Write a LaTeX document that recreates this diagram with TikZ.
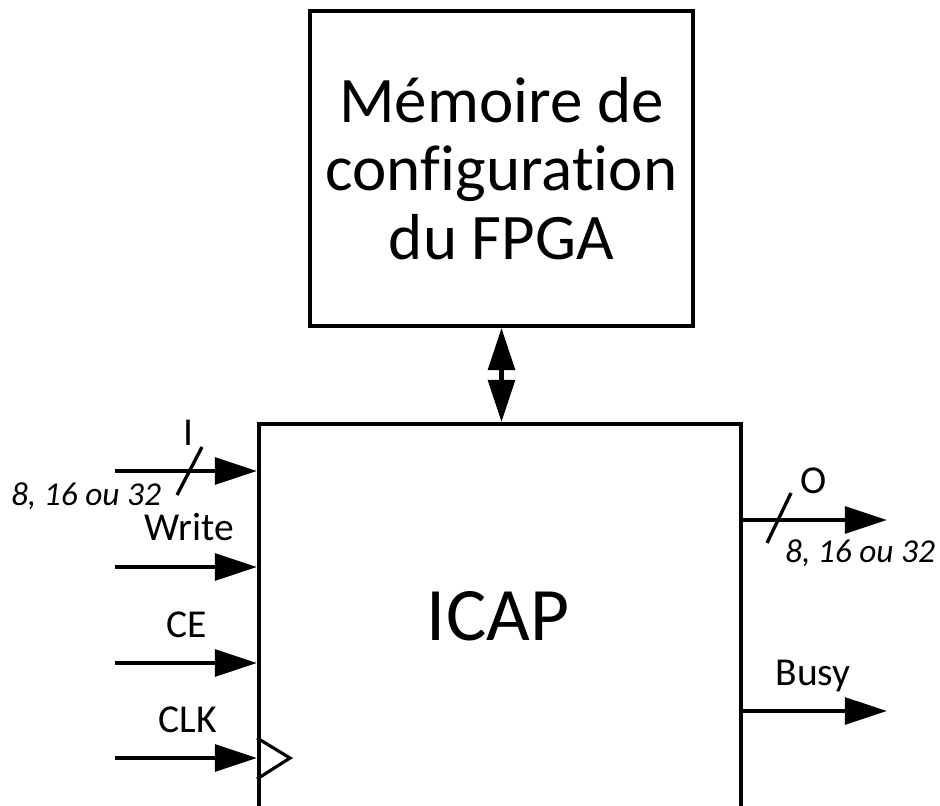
\documentclass[tikz,border=0pt]{standalone}
\usepackage{fontspec}
\setmainfont{Carlito}[Ligatures=NoCommon]
\usepackage{tikz}
\usetikzlibrary{positioning}
\usetikzlibrary{calc}
\usetikzlibrary{arrows.meta}
\tikzset{>=stealth}
\tikzstyle{block} = [draw, line width=2.3pt, rectangle, inner sep=0pt]
\tikzstyle{sig} = [draw, line width=2.8pt, -{Triangle[length=24pt,width=15pt]}]
\tikzstyle{bus} = [draw, line width=1.9pt]
\newcommand{\sigfont}{\fontsize{22.5}{26}\selectfont}
\newcommand{\busfont}{\fontsize{19}{22}\selectfont\itshape}

\begin{document}
\begin{tikzpicture}[x=0.02cm, y=-0.02cm,
		lbl/.style={font=\sigfont, anchor=base, inner sep=0pt},
		wid/.style={font=\busfont, anchor=base, inner sep=0pt}]
		\clip (0,0) rectangle (940,805);
		%% Blocks
		\node [block, minimum width=7.66cm, minimum height=6.3cm,
			align=center, font=\fontsize{37}{39}\selectfont] (mem) at (501.5,168.5)
			{Mémoire de\\configuration\\du FPGA};
		\node [block, minimum width=9.65cm, minimum height=9.52cm] (icap) at (500.25,662) {};
		\node [font=\fontsize{43}{48}\selectfont, anchor=base, inner sep=0pt] (icaptxt) at (498,640) {ICAP};
		%% Inputs
		\coordinate (inI) at (115,471);
		\coordinate (inW) at (115,567);
		\coordinate (inCE) at (115,663);
		\coordinate (inCLK) at (115,758);
		\path [sig] (inI) -- (inI -| icap.west);
		\path [sig] (inW) -- (inW -| icap.west);
		\path [sig] (inCE) -- (inCE -| icap.west);
		\path [sig] (inCLK) -- (inCLK -| icap.west);
		\coordinate (busI) at (189.5,471);
		\path [bus] ($(busI)+(-12.5,24)$) -- ($(busI)+(12.5,-24)$);
		\node [lbl] (lI) at (188,445) {I};
		\node [wid] (wI) at (86,505) {8, 16 ou 32};
		\node [lbl] (lW) at (189,540) {Write};
		\node [lbl] (lCE) at (187,637) {CE};
		\node [lbl] (lCLK) at (188,732) {CLK};
		%% Clock mark
		\draw [line width=1.8pt, line join=miter]
			($(inCLK -| icap.west)+(0,-20)$) -- ($(inCLK -| icap.west)+(33,0)$)
			-- ($(inCLK -| icap.west)+(0,21)$);
		%% Outputs
		\coordinate (outO) at (887,520);
		\coordinate (outB) at (887,711);
		\path [sig] (outO -| icap.east) -- (outO);
		\path [sig] (outB -| icap.east) -- (outB);
		\coordinate (busO) at (779,518);
		\path [bus] ($(busO)+(-12,25)$) -- ($(busO)+(12,-25)$);
		\node [lbl] (lO) at (814,493) {O};
		\node [wid] (wO) at (860,562) {8, 16 ou 32};
		\node [lbl] (lB) at (813,685) {Busy};
		%% Configuration access
		\path [draw, line width=2.8pt, {Triangle[length=24pt,width=15pt]}-{Triangle[length=24pt,width=15pt]}]
			(mem.south) -- (mem.south |- icap.north);
	\end{tikzpicture}
\end{document}
